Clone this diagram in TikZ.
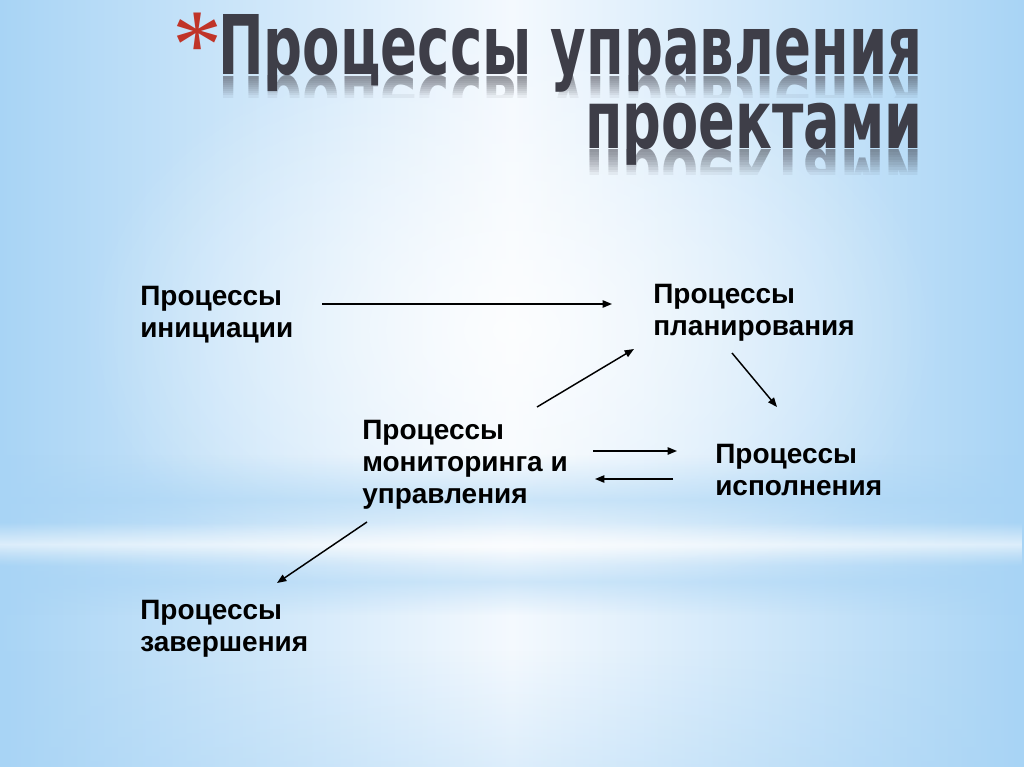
\documentclass[tikz,border=0pt]{standalone}
\usepackage{fontspec}
\setmainfont{Liberation Sans}
\newfontfamily\titlefont{DejaVu Sans}
\newfontfamily\starfont{Liberation Serif}
\usetikzlibrary{arrows.meta,fadings,positioning}

\definecolor{bgblue}{RGB}{168,212,245}
\definecolor{bgwhite}{RGB}{244,249,254}
\definecolor{titlegray}{RGB}{62,62,72}
\definecolor{starred}{RGB}{192,52,40}

\tikzfading[name=bandfade, top color=transparent!100, bottom color=transparent!100, middle color=transparent!0]
\tikzfading[name=bandup, top color=transparent!100, bottom color=transparent!0]
\tikzfading[name=glowfade, inner color=transparent!0, outer color=transparent!100]

\newcommand{\titleLineA}{\resizebox{528pt}{45pt}{\titlefont\bfseries Процессы управления}}
\newcommand{\titleLineB}{\resizebox{252.75pt}{34pt}{\titlefont\bfseries проектами}}

\begin{document}
\begin{tikzpicture}[
		x=0.75pt, y=-0.75pt,
		% Styles
		procbox/.style={font=\bfseries\fontsize{21}{24}\selectfont, align=left, anchor=north west, inner sep=0pt},
		titletext/.style={anchor=base west, inner sep=0pt, text=titlegray},
		flow/.style={-{Triangle[length=7pt,width=5.5pt]}, line width=1.1pt, black}
	]
	\useasboundingbox (0,0) rectangle (1024,767);

	% --- 1. ACHTERGROND ---
	\shade[left color=bgblue, right color=bgblue, middle color=bgwhite] (0,0) rectangle (1024,767);
	\fill[white, path fading=glowfade, opacity=0.75] (512,330) ellipse (430 and 300);
	\fill[bgblue, path fading=bandfade, opacity=0.55] (0,455) rectangle (1024,545);
	\fill[white, path fading=bandfade, opacity=0.6] (0,522) rectangle (1024,566);
	\fill[bgblue, path fading=bandfade, opacity=0.5] (0,548) rectangle (1024,615);
	\fill[bgblue, path fading=bandup, opacity=0.3] (0,650) rectangle (1024,767);

	% --- 2. TITEL MET SPIEGELING ---
	\node[text=starred, font=\starfont\fontsize{75}{75}\selectfont, inner sep=0pt, anchor=north] (star) at (197,13) {*};
	\node[titletext] (titleA) at (218,75) {\titleLineA};
	\node[titletext] (titleB) at (585,148) {\titleLineB};
	% spiegelbeeld: gestapelde clips, samen een zachte overgang
	\foreach \k in {1,...,10} {
			\begin{scope}
				\clip (0,76) rectangle (1024,{76+2.1*\k});
				\node[titletext, opacity=0.065] at (218,76) {\scalebox{1}[-1]{\titleLineA}};
			\end{scope}
			\begin{scope}
				\clip (0,149) rectangle (1024,{149+2.5*\k});
				\node[titletext, opacity=0.065] at (585,149) {\scalebox{1}[-1]{\titleLineB}};
			\end{scope}
		}

	% --- 3. PROCESSEN ---
	\node[procbox] (init) at (140,286) {Процессы\\инициации};
	\node[procbox] (plan) at (653,284) {Процессы\\планирования};
	\node[procbox] (mon) at (362,420) {Процессы\\мониторинга и\\управления};
	\node[procbox] (exec) at (715,444) {Процессы\\исполнения};
	\node[procbox] (close) at (140,600) {Процессы\\завершения};

	% --- 4. PIJLEN ---
	\coordinate (initOut) at (322,304);
	\coordinate (planIn) at (612,304);
	\coordinate (monUp) at (537,407);
	\coordinate (planInB) at (634,349);
	\coordinate (planOut) at (732,353);
	\coordinate (execIn) at (777,407);
	\coordinate (monOut) at (593,451);
	\coordinate (execInB) at (677,451);
	\coordinate (execOut) at (673,479);
	\coordinate (monIn) at (595,479);
	\coordinate (monDown) at (367,522);
	\coordinate (closeIn) at (277,583);

	\draw[flow] (initOut) -- (planIn);
	\draw[flow] (monUp) -- (planInB);
	\draw[flow] (planOut) -- (execIn);
	\draw[flow] (monOut) -- (execInB);
	\draw[flow] (execOut) -- (monIn);
	\draw[flow] (monDown) -- (closeIn);

\end{tikzpicture}
\end{document}
